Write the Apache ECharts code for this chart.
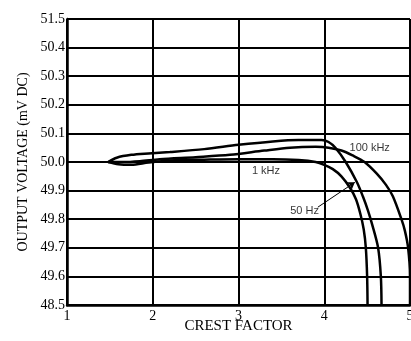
<!DOCTYPE html>
<html>
<head>
<meta charset="utf-8">
<script src="https://cdn.jsdelivr.net/npm/echarts@6/dist/echarts.min.js"></script>
<style>
  html, body { margin: 0; padding: 0; background: #fff; }
  #chart { width: 411px; height: 341px; }
</style>
</head>
<body>
<div id="chart"></div>
<script>
// Crest factor (x) vs. output voltage in mV DC (y)
const xTicks = [1, 2, 3, 4, 5];
const yTickLabels = ['48.5', '49.6', '49.7', '49.8', '49.9', '50.0', '50.1', '50.2', '50.3', '50.4', '51.5'];

const crest1k = [1.48, 1.6, 1.75, 1.95, 2.2, 2.6, 3.0, 3.4, 3.7, 3.9, 4.0, 4.1, 4.2, 4.3, 4.37, 4.42, 4.46, 4.485, 4.5, 4.505];
const volt1k  = [50.0, 49.992, 49.99, 49.998, 50.005, 50.008, 50.01, 50.01, 50.007, 50.0, 49.99, 49.975, 49.95, 49.91, 49.87, 49.82, 49.765, 49.7, 49.6, 48.5];

const crest50 = [1.48, 1.58, 1.75, 1.95, 2.2, 2.6, 3.0, 3.4, 3.7, 3.97, 4.05, 4.13, 4.25, 4.38, 4.45, 4.51, 4.56, 4.628, 4.66, 4.668];
const volt50  = [50.0, 50.015, 50.025, 50.03, 50.035, 50.045, 50.06, 50.072, 50.077, 50.077, 50.07, 50.05, 50.0, 49.93, 49.88, 49.83, 49.78, 49.7, 49.6, 48.5];

const crest100k = [1.48, 1.65, 1.85, 2.08, 2.5, 2.9, 3.3, 3.6, 3.9, 4.05, 4.2, 4.33, 4.47, 4.61, 4.72, 4.8, 4.9, 4.94, 4.978, 5.0, 5.0];
const volt100k  = [50.0, 50.0, 50.003, 50.01, 50.017, 50.025, 50.04, 50.05, 50.053, 50.05, 50.04, 50.023, 50.0, 49.96, 49.92, 49.88, 49.8, 49.76, 49.7, 49.6, 48.5];

// The voltage scale is broken: 48.5–49.6 and 50.4–51.5 each occupy one band,
// 49.6–50.4 is linear at 0.1 mV per band.
function band(v) {
  if (v < 49.6) return (v - 48.5) / 1.1;
  if (v > 50.4) return 9 + (v - 50.4) / 1.1;
  return 1 + (v - 49.6) / 0.1;
}
function pairs(xs, ys) { return xs.map((x, i) => [x, band(ys[i])]); }

const serif = '"Liberation Serif", "Times New Roman", serif';
const sans = '"Liberation Sans", Arial, sans-serif';

const curveStyle = { color: '#000', width: 2.5 };

function curve(name, xs, ys) {
  return {
    name, type: 'line', data: pairs(xs, ys), showSymbol: false, symbol: 'none',
    smooth: 0.3, lineStyle: curveStyle, z: 3, animation: false
  };
}

const chart = echarts.init(document.getElementById('chart'), null, { renderer: 'canvas' });
chart.setOption({
  animation: false,
  backgroundColor: '#fff',
  grid: { left: 67, right: 1, top: 19, bottom: 36, containLabel: false, outerBoundsMode: 'none' },
  xAxis: {
    type: 'value', min: 1, max: 5, interval: 1,
    name: 'CREST FACTOR', nameLocation: 'middle', nameGap: 14, nameMoveOverlap: false,
    nameTextStyle: { fontFamily: serif, fontSize: 15, color: '#000' },
    axisLine: { show: true, lineStyle: { color: '#000', width: 2.5 } },
    axisTick: { show: false },
    axisLabel: { fontFamily: serif, fontSize: 14, color: '#000', margin: 4,
      formatter: v => xTicks.includes(v) ? String(v) : '' },
    splitLine: { show: true, lineStyle: { color: '#000', width: 2 } }
  },
  yAxis: {
    type: 'value', min: 0, max: 10, interval: 1,
    name: 'OUTPUT VOLTAGE (mV DC)', nameLocation: 'middle', nameGap: 37, nameRotate: 90,
    nameMoveOverlap: false,
    nameTextStyle: { fontFamily: serif, fontSize: 14, color: '#000' },
    axisLine: { show: true, lineStyle: { color: '#000', width: 2.5 } },
    axisTick: { show: false },
    axisLabel: { fontFamily: serif, fontSize: 14, color: '#000', margin: 2,
      formatter: v => yTickLabels[Math.round(v)] },
    splitLine: { show: true, lineStyle: { color: '#000', width: 2 } }
  },
  series: [
    curve('1 kHz', crest1k, volt1k),
    curve('50 Hz', crest50, volt50),
    curve('100 kHz', crest100k, volt100k),
    {
      name: 'notes', type: 'scatter', symbolSize: 0, z: 5, animation: false,
      label: { show: true, position: 'inside', fontFamily: sans, fontSize: 11, color: '#000',
        formatter: p => p.data.text },
      data: [
        { value: [4.53, band(50.048)], text: '100 kHz' },
        { value: [3.32, band(49.967)], text: '1 kHz' },
        { value: [3.77, band(49.828)], text: '50 Hz' }
      ]
    },
    {
      name: 'pointer', type: 'line', data: [], z: 5, animation: false,
      markLine: {
        silent: true, symbol: ['none', 'arrow'], symbolSize: 7,
        lineStyle: { color: '#000', width: 1, type: 'solid' },
        label: { show: false },
        data: [[{ coord: [3.925, band(49.842)] }, { coord: [4.357, band(49.929)] }]]
      }
    }
  ]
});
</script>
</body>
</html>
